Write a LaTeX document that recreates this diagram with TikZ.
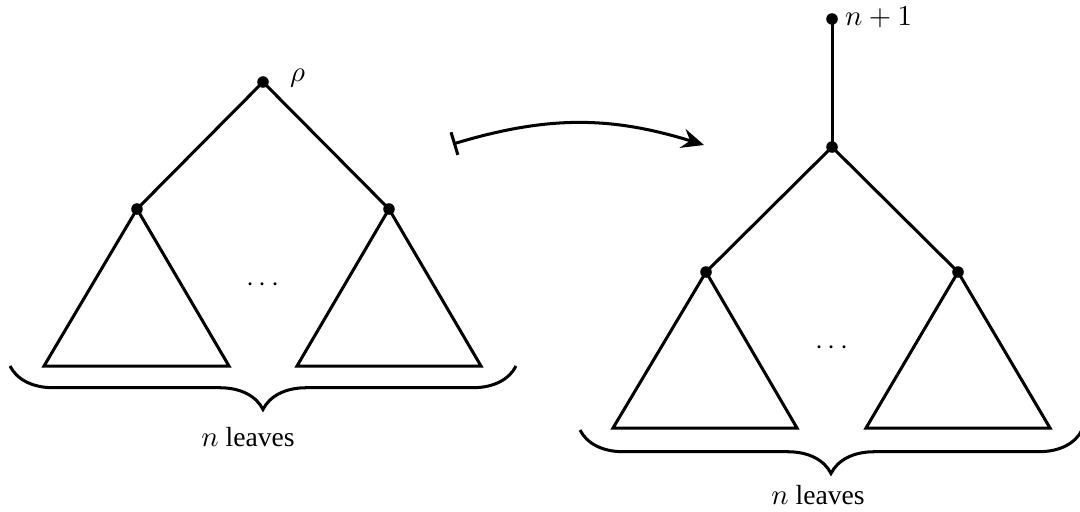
\documentclass[tikz,border=0pt]{standalone}
\usepackage[no-math]{fontspec}
\setmainfont{Liberation Serif}
\usetikzlibrary{arrows.meta,decorations.pathreplacing}
\tikzset{
  vtx/.style={circle,fill=black,inner sep=0pt,minimum size=4.4pt},
  edge/.style={line width=1.15pt},
  tri/.style={line width=1.15pt,line join=miter},
  brc/.style={line width=1.15pt,decorate,decoration={brace,mirror,amplitude=16.5pt}},
  lbl/.style={inner sep=1pt},
  every node/.append style={font=\fontsize{10.5}{12.6}\selectfont}
}
\begin{document}
\begin{tikzpicture}[x=0.38pt,y=-0.38pt]
\useasboundingbox (0,0) rectangle (1080,511);
% left tree
\node[vtx] (r) at (263,82) {};
\node[vtx] (a) at (137,209) {};
\node[vtx] (b) at (389,209) {};
\node[lbl,anchor=west] (rl) at (287,78) {$\rho$};
\draw[edge] (a.center) -- (r.center) -- (b.center);
\coordinate (a1) at (44,366); \coordinate (a2) at (229,366);
\coordinate (b1) at (297,366); \coordinate (b2) at (481,366);
\draw[tri] (a.center) -- (a1) -- (a2) -- cycle;
\draw[tri] (b.center) -- (b1) -- (b2) -- cycle;
\node (d1) at (263,285) {$\cdots$};
\coordinate (bl1) at (10,366); \coordinate (bl2) at (516,366);
\draw[brc] (bl1) -- (bl2);
\node (t1) at (248,437) {$n$ leaves};
% arrow
\coordinate (s) at (453,144);
\coordinate (e) at (704,145);
\draw[line width=1.15pt,{Bar[width=9pt]}-{Stealth[length=8.5pt,width=7.5pt,inset=3pt]},bend left=17] (s) to (e);
% right tree
\node[vtx] (top) at (832,19) {};
\node[lbl,anchor=west] (tl) at (842,17) {$n+1$};
\node[vtx] (m) at (832,147) {};
\node[vtx] (c) at (706,272) {};
\node[vtx] (d) at (958,272) {};
\draw[edge] (top.center) -- (m.center);
\draw[edge] (c.center) -- (m.center) -- (d.center);
\coordinate (c1) at (613,428); \coordinate (c2) at (797,428);
\coordinate (e1) at (866,428); \coordinate (e2) at (1050,428);
\draw[tri] (c.center) -- (c1) -- (c2) -- cycle;
\draw[tri] (d.center) -- (e1) -- (e2) -- cycle;
\node (d2) at (832,348) {$\cdots$};
\coordinate (br1) at (580,430); \coordinate (br2) at (1082,430);
\draw[brc] (br1) -- (br2);
\node (t2) at (818,495) {$n$ leaves};
\end{tikzpicture}
\end{document}
